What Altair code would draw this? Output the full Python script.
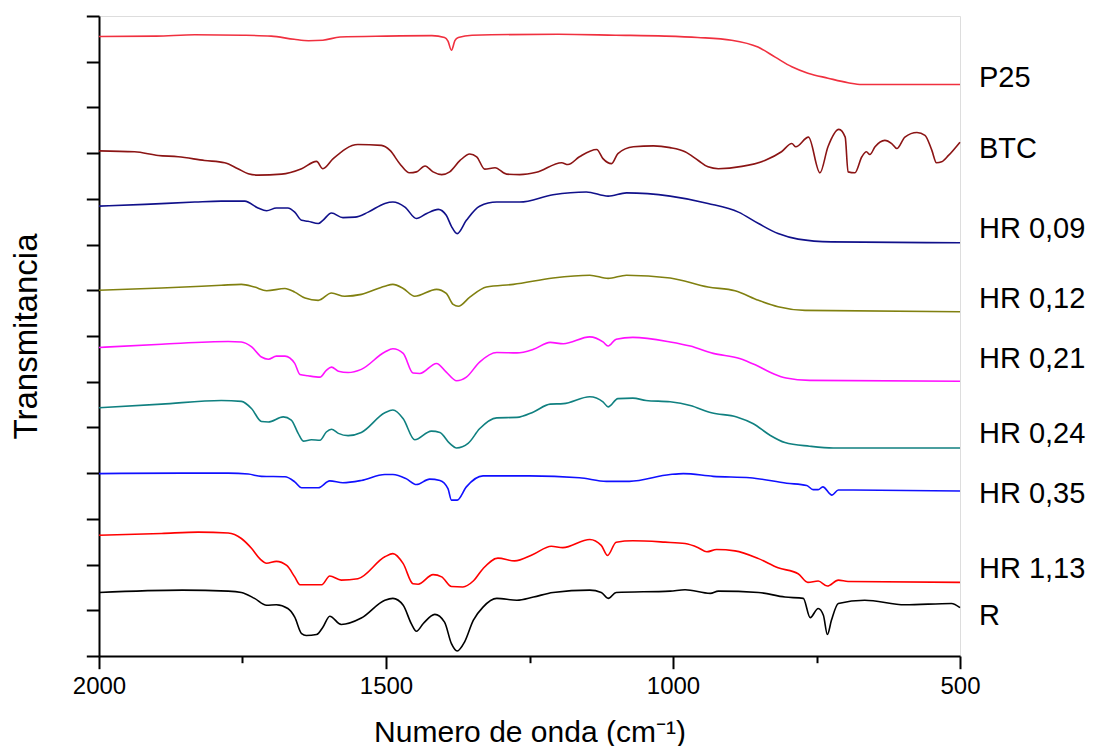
import altair as alt
import pandas as pd

FONT = "Liberation Sans"

SERIES = ["P25", "BTC", "HR 0,09", "HR 0,12", "HR 0,21", "HR 0,24", "HR 0,35", "HR 1,13", "R"]
COLORS = ["#F0303F", "#8B1414", "#10108A", "#808010", "#FF10FF", "#108080", "#1010FF", "#FF0000", "#000000"]

WN_P25 = [2000, 1900, 1833, 1750, 1700, 1660, 1635, 1610, 1580, 1500, 1420, 1398, 1392, 1386, 1380, 1374, 1350, 1200, 1100, 1014, 957, 898, 852, 822, 793, 765, 730, 695, 671, 600, 500]
T_P25 = [135.5, 135.6, 135.9, 135.8, 135.6, 134.9, 134.6, 134.7, 135.4, 135.6, 135.7, 135.3, 134.5, 132.5, 134.6, 135.3, 135.8, 136.0, 135.8, 135.6, 135.3, 134.7, 133.2, 131.0, 128.9, 127.5, 126.4, 125.4, 125.0, 125.0, 125.0]

WN_BTC = [2000, 1938, 1897, 1862, 1816, 1781, 1758, 1740, 1723, 1682, 1647, 1621, 1610, 1592, 1549, 1508, 1493, 1476, 1459, 1447, 1432, 1418, 1403, 1389, 1371, 1354, 1342, 1328, 1310, 1290, 1267, 1238, 1194, 1183, 1163, 1133, 1122, 1107, 1096, 1069, 1034, 1005, 979, 956, 939, 921, 880, 840, 811, 793, 786, 764, 744, 730, 711, 700, 695, 683, 671, 663, 657, 648, 631, 619, 610, 596, 575, 561, 549, 541, 532, 520, 500]
T_BTC = [110.5, 110.3, 109.5, 109.2, 108.4, 107.9, 106.6, 105.5, 105.2, 105.4, 106.6, 108.2, 106.6, 108.8, 111.9, 111.7, 110.6, 107.7, 105.7, 105.9, 107.2, 105.9, 105.3, 105.9, 108.4, 109.8, 109.2, 106.5, 106.8, 105.4, 105.3, 105.8, 107.9, 107.5, 109.2, 110.8, 108.8, 107.7, 109.9, 111.4, 111.6, 111.2, 110.3, 108.4, 107.0, 106.6, 107.1, 108.4, 110.3, 112.1, 111.4, 113.5, 105.7, 111.4, 115.2, 113.5, 105.9, 105.7, 109.2, 110.3, 109.7, 111.4, 112.8, 112.1, 111.0, 113.5, 114.5, 113.9, 110.6, 107.9, 108.1, 109.5, 112.4]

WN_HR009 = [2000, 1920, 1833, 1787, 1746, 1723, 1708, 1691, 1671, 1659, 1647, 1636, 1618, 1610, 1595, 1575, 1554, 1531, 1502, 1488, 1467, 1447, 1429, 1409, 1395, 1386, 1376, 1360, 1337, 1307, 1267, 1209, 1151, 1113, 1081, 1005, 939, 886, 851, 817, 782, 724, 500]
T_HR009 = [98.4, 98.8, 99.3, 99.5, 99.5, 98.0, 97.4, 98.0, 98.0, 97.1, 95.3, 95.1, 94.6, 95.3, 96.9, 95.9, 96.0, 97.1, 99.0, 99.3, 98.2, 95.7, 96.8, 97.7, 96.4, 94.0, 92.4, 95.3, 98.4, 99.3, 99.3, 100.9, 101.5, 100.6, 101.3, 100.6, 99.0, 97.1, 94.6, 92.4, 91.2, 90.6, 90.4]

WN_HR012 = [2000, 1891, 1787, 1752, 1729, 1708, 1676, 1659, 1641, 1618, 1595, 1572, 1543, 1502, 1488, 1470, 1450, 1412, 1395, 1383, 1374, 1354, 1325, 1278, 1209, 1145, 1113, 1081, 1005, 939, 892, 851, 817, 770, 500]
T_HR012 = [80.0, 80.5, 81.1, 81.3, 80.7, 79.9, 80.4, 79.6, 78.3, 77.8, 79.4, 78.7, 79.1, 80.9, 81.3, 80.4, 78.7, 80.2, 79.3, 76.9, 76.5, 78.5, 80.7, 81.3, 82.7, 83.3, 82.6, 83.3, 82.7, 80.7, 79.9, 77.8, 76.4, 75.6, 75.3]

WN_HR021 = [2000, 1891, 1775, 1752, 1734, 1717, 1705, 1691, 1676, 1659, 1650, 1636, 1615, 1604, 1595, 1583, 1566, 1543, 1502, 1488, 1470, 1453, 1441, 1412, 1395, 1377, 1360, 1337, 1307, 1272, 1243, 1214, 1191, 1145, 1122, 1113, 1099, 1070, 1005, 970, 930, 884, 855, 826, 803, 762, 500]
T_HR021 = [67.5, 68.2, 68.8, 68.7, 67.6, 65.4, 64.9, 65.6, 65.6, 64.0, 61.6, 61.3, 61.0, 62.5, 63.2, 62.3, 62.0, 62.7, 66.5, 67.2, 66.2, 61.9, 61.8, 64.0, 62.1, 60.2, 61.0, 64.3, 66.4, 66.3, 67.1, 68.6, 68.3, 69.8, 68.7, 67.8, 69.3, 69.7, 68.7, 67.8, 66.2, 65.1, 63.6, 61.8, 60.8, 60.3, 60.1]

WN_HR024 = [2000, 1891, 1787, 1752, 1734, 1717, 1705, 1679, 1665, 1653, 1644, 1630, 1615, 1604, 1595, 1583, 1566, 1543, 1502, 1488, 1470, 1450, 1421, 1406, 1389, 1377, 1357, 1337, 1307, 1272, 1243, 1214, 1191, 1145, 1122, 1113, 1096, 1070, 1047, 1005, 970, 933, 889, 860, 831, 805, 762, 721, 500]
T_HR024 = [54.3, 55.1, 55.9, 55.7, 54.1, 51.3, 51.2, 52.3, 51.6, 48.7, 47.0, 47.3, 47.2, 49.0, 49.6, 48.7, 48.2, 48.9, 53.2, 53.8, 51.9, 47.3, 49.2, 48.9, 46.5, 45.5, 46.5, 49.7, 52.1, 52.2, 53.4, 55.1, 55.2, 56.7, 55.6, 54.5, 56.3, 56.4, 55.9, 55.6, 54.8, 53.2, 52.3, 50.8, 48.3, 46.7, 45.9, 45.5, 45.5]

WN_HR035 = [2000, 1855, 1775, 1740, 1717, 1676, 1659, 1647, 1618, 1598, 1575, 1543, 1502, 1488, 1465, 1447, 1424, 1406, 1392, 1386, 1376, 1360, 1331, 1250, 1163, 1116, 1076, 1005, 982, 930, 866, 802, 767, 756, 747, 739, 723, 712, 686, 500]
T_HR035 = [39.9, 40.0, 40.0, 39.8, 39.3, 39.2, 38.1, 36.8, 36.8, 38.3, 37.9, 38.4, 39.7, 39.7, 38.8, 37.5, 38.7, 38.4, 36.6, 34.1, 34.1, 37.0, 39.4, 39.4, 39.0, 38.2, 38.2, 39.7, 39.9, 39.3, 39.0, 37.8, 37.3, 36.4, 36.4, 37.0, 35.2, 36.3, 36.3, 36.1]

WN_HR113 = [2000, 1891, 1827, 1775, 1752, 1734, 1720, 1708, 1691, 1673, 1659, 1650, 1612, 1598, 1578, 1549, 1502, 1488, 1470, 1453, 1444, 1418, 1403, 1386, 1366, 1348, 1331, 1305, 1276, 1244, 1212, 1192, 1145, 1125, 1114, 1099, 1070, 1014, 979, 956, 941, 924, 892, 851, 817, 782, 765, 747, 731, 712, 695, 500]
T_HR113 = [26.4, 26.8, 27.1, 26.9, 25.7, 23.5, 21.3, 20.3, 20.7, 19.8, 17.3, 15.6, 15.6, 17.5, 16.6, 16.9, 21.7, 22.4, 20.2, 15.8, 15.7, 17.8, 17.3, 15.2, 15.1, 16.4, 19.1, 21.4, 20.8, 22.2, 24.0, 23.7, 25.5, 24.2, 22.0, 24.9, 25.2, 24.9, 24.6, 23.7, 22.8, 23.3, 23.0, 21.3, 19.3, 18.0, 16.1, 16.4, 15.3, 16.6, 16.3, 16.1]

WN_R = [2000, 1855, 1775, 1752, 1729, 1708, 1691, 1671, 1659, 1647, 1639, 1621, 1610, 1598, 1578, 1543, 1502, 1488, 1470, 1456, 1447, 1435, 1415, 1398, 1386, 1376, 1363, 1348, 1331, 1307, 1272, 1243, 1209, 1145, 1125, 1113, 1099, 1005, 979, 935, 921, 851, 805, 773, 761, 747, 738, 731, 724, 712, 666, 596, 515, 500]
T_R = [13.9, 14.4, 14.2, 13.9, 12.6, 11.1, 11.2, 10.4, 8.5, 4.9, 4.5, 4.7, 6.3, 8.7, 6.9, 8.3, 12.2, 12.6, 11.1, 7.1, 5.4, 7.1, 9.1, 7.4, 2.7, 1.1, 3.1, 7.8, 10.7, 12.6, 12.2, 12.9, 13.9, 14.4, 13.9, 12.6, 13.9, 14.2, 14.5, 13.7, 14.2, 13.9, 12.9, 12.6, 8.4, 10.4, 8.9, 4.7, 7.8, 11.5, 12.2, 11.2, 11.5, 10.6]

# series label anchors (wavenumber, transmittance units)
LABEL_WN = [467] * 9
LABEL_T = [126.4, 111.0, 93.4, 78.1, 65.0, 48.6, 35.5, 19.1, 8.8]

X_TICKS = [2000, 1750, 1500, 1250, 1000, 750, 500]
Y_TICKS = list(range(0, 141, 5))

pairs = [(WN_P25, T_P25), (WN_BTC, T_BTC), (WN_HR009, T_HR009), (WN_HR012, T_HR012),
         (WN_HR021, T_HR021), (WN_HR024, T_HR024), (WN_HR035, T_HR035), (WN_HR113, T_HR113), (WN_R, T_R)]

rows = []
for name, (wn, t) in zip(SERIES, pairs):
    assert len(wn) == len(t), (name, len(wn), len(t))
    for a, b in zip(wn, t):
        rows.append({"series": name, "wn": a, "t": b})
df = pd.DataFrame(rows)
labels_df = pd.DataFrame({"series": SERIES, "wn": LABEL_WN, "t": LABEL_T})

xscale = alt.Scale(domain=[2000, 500], nice=False, zero=False)
yscale = alt.Scale(domain=[0, 140], nice=False, zero=False)

x_axis = alt.Axis(
    values=X_TICKS,
    labelExpr="datum.value % 500 === 0 ? datum.label : ''",
    tickSize={"condition": {"test": "datum.value % 500 === 0", "value": 12.7}, "value": 6.7},
    labelFontSize=24, labelFont=FONT, labelColor="black", labelPadding=6,
    labelFlush=False, labelOverlap=False, grid=False,
    domainColor="black", domainWidth=2, tickColor="black", tickWidth=2,
    title="Numero de onda (cm⁻¹)", titleFont=FONT, titleFontSize=30, titleFontWeight="normal",
    titleColor="black", titleX=430.5, titleY=85, titleBaseline="alphabetic", titleAlign="center",
    format="d",
)
y_axis = alt.Axis(
    values=Y_TICKS, labels=False, grid=False,
    tickSize={"condition": {"test": "datum.value % 10 === 0", "value": 12.7}, "value": 6.7},
    domainColor="black", domainWidth=2, tickColor="black", tickWidth=2,
    title="Transmitancia", titleFont=FONT, titleFontSize=33, titleFontWeight="normal",
    titleColor="black", titleX=-63, titleY=320, titleAngle=270,
    titleBaseline="alphabetic", titleAlign="center",
)

lines = alt.Chart(df).mark_line(interpolate="monotone", strokeWidth=1.6).encode(
    x=alt.X("wn:Q", scale=xscale, axis=x_axis),
    y=alt.Y("t:Q", scale=yscale, axis=y_axis),
    color=alt.Color("series:N", scale=alt.Scale(domain=SERIES, range=COLORS), legend=None),
)

texts = alt.Chart(labels_df).mark_text(
    align="left", baseline="middle", fontSize=29, font=FONT, color="black"
).encode(
    x=alt.X("wn:Q", scale=xscale),
    y=alt.Y("t:Q", scale=yscale),
    text="series:N",
)

chart = alt.layer(lines, texts).properties(
    width=861, height=640,
    autosize=alt.AutoSizeParams(type="none"),
    padding={"left": 91, "top": 8, "right": 128, "bottom": 90},
).configure_view(strokeWidth=0).configure(background="white")

chart.save("out.html", embed_options={"renderer": "svg", "actions": False})
